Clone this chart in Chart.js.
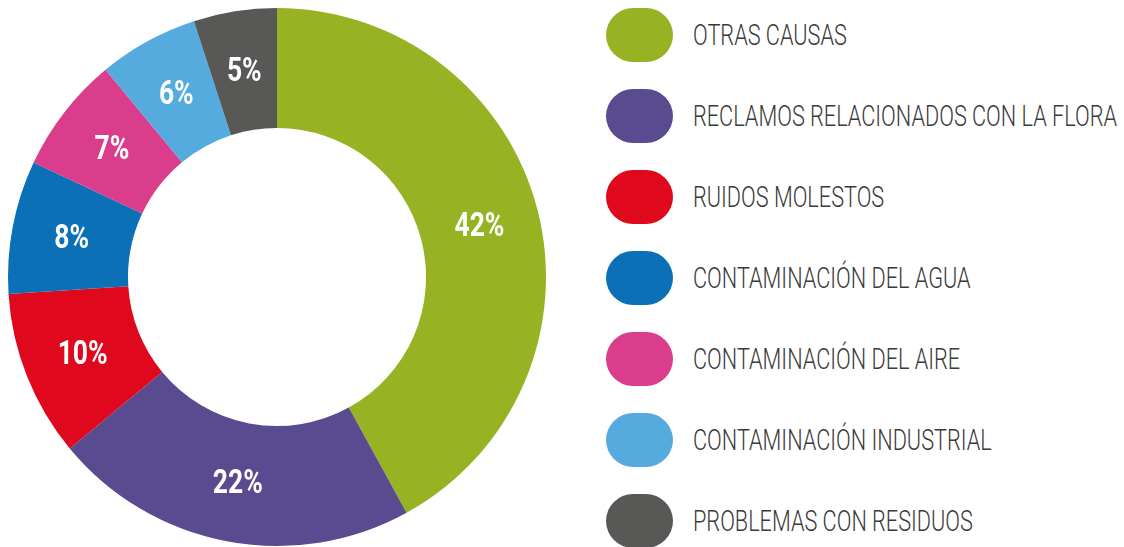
<!DOCTYPE html>
<html>
<head>
<meta charset="utf-8">
<script src="https://cdn.jsdelivr.net/npm/chart.js@4/dist/chart.umd.min.js"></script>
<style>
  html, body { margin: 0; padding: 0; background: #ffffff; width: 1124px; height: 547px; overflow: hidden; }
  #chartBox { position: absolute; left: 0; top: 0; width: 554px; height: 547px; }
  #legend { position: absolute; left: 606px; top: 0; }
  .item { position: absolute; left: 0; height: 54px; width: 520px; }
  .pill { position: absolute; left: 0; top: 0; width: 67px; height: 54px; border-radius: 27px; }
  .lbl { position: absolute; left: 87px; top: 0; line-height: 54px; font-family: Roboto, "DejaVu Sans Condensed", sans-serif; font-weight: 300; font-size: 29px; color: #3a3a3a; white-space: nowrap; transform-origin: 0 50%; }
</style>
</head>
<body>
<div id="chartBox"><canvas id="c"></canvas></div>
<div id="legend"></div>
<script>
const categories = [
  "OTRAS CAUSAS",
  "RECLAMOS RELACIONADOS CON LA FLORA",
  "RUIDOS MOLESTOS",
  "CONTAMINACIÓN DEL AGUA",
  "CONTAMINACIÓN DEL AIRE",
  "CONTAMINACIÓN INDUSTRIAL",
  "PROBLEMAS CON RESIDUOS"
];
const values = [42, 22, 10, 8, 7, 6, 5];
const colors = ["#97b324", "#5a4a8f", "#e0081c", "#0b70b6", "#d93d8c", "#55abdd", "#585857"];

const labelFont = "bold 34px Roboto, 'DejaVu Sans Condensed', sans-serif";

const pctLabels = {
  id: "pctLabels",
  afterDatasetsDraw(chart) {
    const ctx = chart.ctx;
    const meta = chart.getDatasetMeta(0);
    ctx.save();
    ctx.font = labelFont;
    // condense horizontally: "42%" should be ~50px wide
    const sx = 50 / ctx.measureText("42%").width;
    ctx.fillStyle = "#ffffff";
    ctx.textAlign = "center";
    ctx.textBaseline = "middle";
    meta.data.forEach((arc, i) => {
      const p = arc.tooltipPosition();
      ctx.save();
      ctx.translate(p.x, p.y + 2);
      ctx.scale(sx, 1);
      ctx.fillText(values[i] + "%", 0, 0);
      ctx.restore();
    });
    ctx.restore();
  }
};

new Chart(document.getElementById("c"), {
  type: "doughnut",
  data: {
    labels: categories,
    datasets: [{
      data: values,
      backgroundColor: colors,
      borderWidth: 0
    }]
  },
  options: {
    responsive: true,
    maintainAspectRatio: false,
    animation: false,
    cutout: "55.4%",
    layout: { padding: { top: 8, bottom: 1, left: 8, right: 8 } },
    plugins: { legend: { display: false }, tooltip: { enabled: false } }
  },
  plugins: [pctLabels]
});

const legend = document.getElementById("legend");
const lbls = [];
categories.forEach((name, i) => {
  const item = document.createElement("div");
  item.className = "item";
  item.style.top = (8 + i * 81) + "px";
  const pill = document.createElement("div");
  pill.className = "pill";
  pill.style.background = colors[i];
  const lbl = document.createElement("div");
  lbl.className = "lbl";
  lbl.textContent = name;
  item.appendChild(pill);
  item.appendChild(lbl);
  legend.appendChild(item);
  lbls.push(lbl);
});
// condense legend text so the longest label spans ~424px
const longest = lbls[1].getBoundingClientRect().width;
const lsx = 424 / longest;
lbls.forEach(l => { l.style.transform = "scaleX(" + lsx + ")"; });
</script>
</body>
</html>
